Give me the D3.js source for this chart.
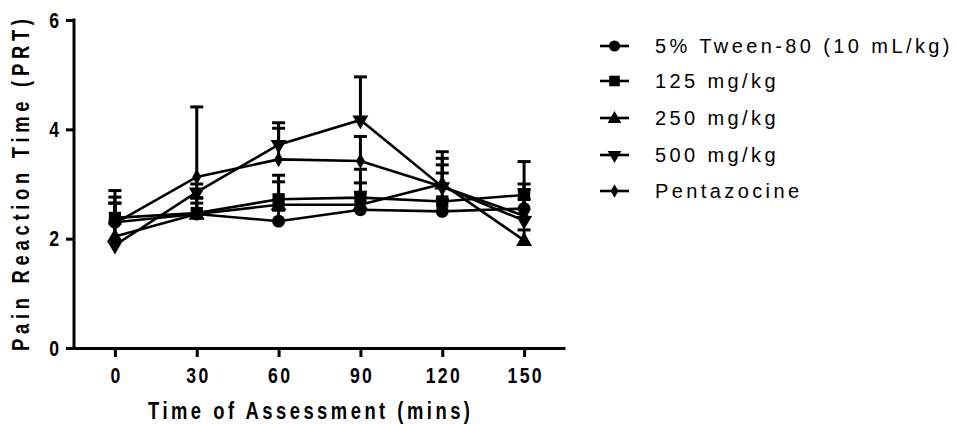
<!DOCTYPE html>
<html>
<head>
<meta charset="utf-8">
<script src="https://cdn.jsdelivr.net/npm/d3@7"></script>
<style>
	body { margin: 0; background: #fff; }
	svg { display: block; }
</style>
</head>
<body>
<svg id="chart" width="956" height="424"></svg>
<script>
'use strict';

// time points (mins)
var times = [0, 30, 60, 90, 120, 150];
var seriesNames = ['5% Tween-80 (10 mL/kg)', '125 mg/kg', '250 mg/kg', '500 mg/kg', 'Pentazocine'];
var seriesSymbols = ['circle', 'square', 'triangleUp', 'triangleDown', 'diamond'];

// mean pain reaction time
var tweenMean = [2.30, 2.45, 2.32, 2.53, 2.50, 2.55];
var mg125Mean = [2.38, 2.47, 2.72, 2.75, 2.68, 2.80];
var mg250Mean = [2.04, 2.45, 2.62, 2.62, 3.00, 1.97];
var mg500Mean = [1.88, 2.85, 3.72, 4.17, 2.95, 2.33];
var pentaMean = [2.28, 3.13, 3.45, 3.42, 2.95, 2.42];

// SEM (upper bars only)
var tweenSem = [0.46, 0.20, 0.20, 0.32, 0.22, 0.17];
var mg125Sem = [0.50, 0.28, 0.44, 0.52, 0.52, 0.61];
var mg250Sem = [0.61, 0.29, 0.42, 0.40, 0.35, 0.19];
var mg500Sem = [0.40, 0.15, 0.40, 0.79, 0.52, 0.67];
var pentaSem = [0.37, 1.28, 0.57, 0.45, 0.64, 0.48];

var yTicks = [0, 2, 4, 6];

var means = [tweenMean, mg125Mean, mg250Mean, mg500Mean, pentaMean];
var sems = [tweenSem, mg125Sem, mg250Sem, mg500Sem, pentaSem];

var svg = d3.select('#chart');

var x = d3.scaleLinear().domain([-15, 165]).range([74, 565]);
var y = d3.scaleLinear().domain([0, 6]).range([348, 20]);

var boldFont = '"Liberation Sans", Arial, sans-serif';
var squeeze = 0.8; // narrow bold look of the original axis font

// axes
var yAxis = svg.append('g')
	.attr('transform', 'translate(' + x(-15) + ',0)')
	.call(d3.axisLeft(y).tickValues(yTicks).tickFormat(d3.format('d')).tickSize(8).tickPadding(7).tickSizeOuter(0));
var xAxis = svg.append('g')
	.attr('transform', 'translate(0,' + y(0) + ')')
	.call(d3.axisBottom(x).tickValues(times).tickSize(9).tickPadding(10).tickSizeOuter(0));

[yAxis, xAxis].forEach(function(ax) {
	ax.select('.domain').attr('stroke', '#000').attr('stroke-width', 3);
	ax.selectAll('.tick line').attr('stroke', '#000').attr('stroke-width', 3);
	ax.selectAll('.tick text')
		.attr('fill', '#000')
		.attr('transform', 'scale(' + squeeze + ',1)')
		.style('font-family', boldFont)
		.style('font-weight', 'bold')
		.style('font-size', '22px');
});
xAxis.selectAll('.tick text').style('letter-spacing', '3px').attr('dx', '1.5px');
yAxis.selectAll('.tick text').attr('x', -15 / squeeze);
// extend y axis line down to meet x axis
yAxis.select('.domain').attr('d', 'M0,' + (y(6) - 1.5) + 'V' + (y(0) + 1.5));

svg.append('text')
	.attr('transform', 'translate(29,' + ((y(0) + y(6)) / 2 + 1) + ') rotate(-90) scale(' + squeeze + ',1)')
	.attr('text-anchor', 'middle')
	.attr('textLength', 332 / squeeze)
	.attr('lengthAdjust', 'spacing')
	.style('font-family', boldFont)
	.style('font-weight', 'bold')
	.style('font-size', '23px')
	.text('Pain Reaction Time (PRT)');

svg.append('text')
	.attr('transform', 'translate(309,419) scale(' + squeeze + ',1)')
	.attr('text-anchor', 'middle')
	.attr('textLength', 322 / squeeze)
	.attr('lengthAdjust', 'spacing')
	.style('font-family', boldFont)
	.style('font-weight', 'bold')
	.style('font-size', '23px')
	.text('Time of Assessment (mins)');

var symbolTypes = {
	circle: d3.symbolCircle,
	square: d3.symbolSquare,
	triangleUp: d3.symbolTriangle,
	triangleDown: d3.symbolTriangle,
	diamond: d3.symbolDiamond
};
var symbolSizes = { circle: 130, square: 150, triangleUp: 110, triangleDown: 110, diamond: 70 };

function symbolPath(name, k) {
	return d3.symbol().type(symbolTypes[name]).size(symbolSizes[name] * (k || 1))();
}
function symbolTransform(name, px, py) {
	if (name === 'triangleDown') return 'translate(' + px + ',' + py + ') rotate(180)';
	if (name === 'triangleUp') return 'translate(' + px + ',' + (py + 1) + ')';
	return 'translate(' + px + ',' + py + ')';
}

var line = d3.line()
	.x(function(d) { return x(d.t); })
	.y(function(d) { return y(d.v); });

var plot = svg.append('g');

means.forEach(function(m, i) {
	var pts = times.map(function(t, j) { return { t: t, v: m[j], e: sems[i][j] }; });
	var g = plot.append('g');

	g.append('path')
		.datum(pts)
		.attr('d', line)
		.attr('fill', 'none')
		.attr('stroke', '#000')
		.attr('stroke-width', 2.6);

	var eb = g.selectAll('.eb').data(pts).enter().append('g');
	eb.append('line')
		.attr('x1', function(d) { return x(d.t); })
		.attr('x2', function(d) { return x(d.t); })
		.attr('y1', function(d) { return y(d.v); })
		.attr('y2', function(d) { return y(d.v + d.e); })
		.attr('stroke', '#000')
		.attr('stroke-width', 3);
	eb.append('line')
		.attr('x1', function(d) { return x(d.t) - 6.5; })
		.attr('x2', function(d) { return x(d.t) + 6.5; })
		.attr('y1', function(d) { return y(d.v + d.e); })
		.attr('y2', function(d) { return y(d.v + d.e); })
		.attr('stroke', '#000')
		.attr('stroke-width', 3);

	g.selectAll('.mk').data(pts).enter().append('path')
		.attr('d', symbolPath(seriesSymbols[i]))
		.attr('transform', function(d) { return symbolTransform(seriesSymbols[i], x(d.t), y(d.v)); })
		.attr('fill', '#000');
});

// legend
var legendY = [46, 81, 118, 155, 191];
var legend = svg.append('g');
seriesNames.forEach(function(name, i) {
	var row = legend.append('g').attr('transform', 'translate(0,' + legendY[i] + ')');
	row.append('line')
		.attr('x1', 600).attr('x2', 629)
		.attr('y1', 0).attr('y2', 0)
		.attr('stroke', '#000').attr('stroke-width', 2.6);
	var s = seriesSymbols[i];
	row.append('path')
		.attr('d', symbolPath(s, 0.75))
		.attr('transform', symbolTransform(s, 614.5, 0))
		.attr('fill', '#000');
	row.append('text')
		.attr('x', 655)
		.attr('y', 7)
		.style('font-family', '"Liberation Sans", Arial, sans-serif')
		.style('font-size', '20px')
		.style('letter-spacing', '3.4px')
		.text(name);
});
</script>
</body>
</html>
